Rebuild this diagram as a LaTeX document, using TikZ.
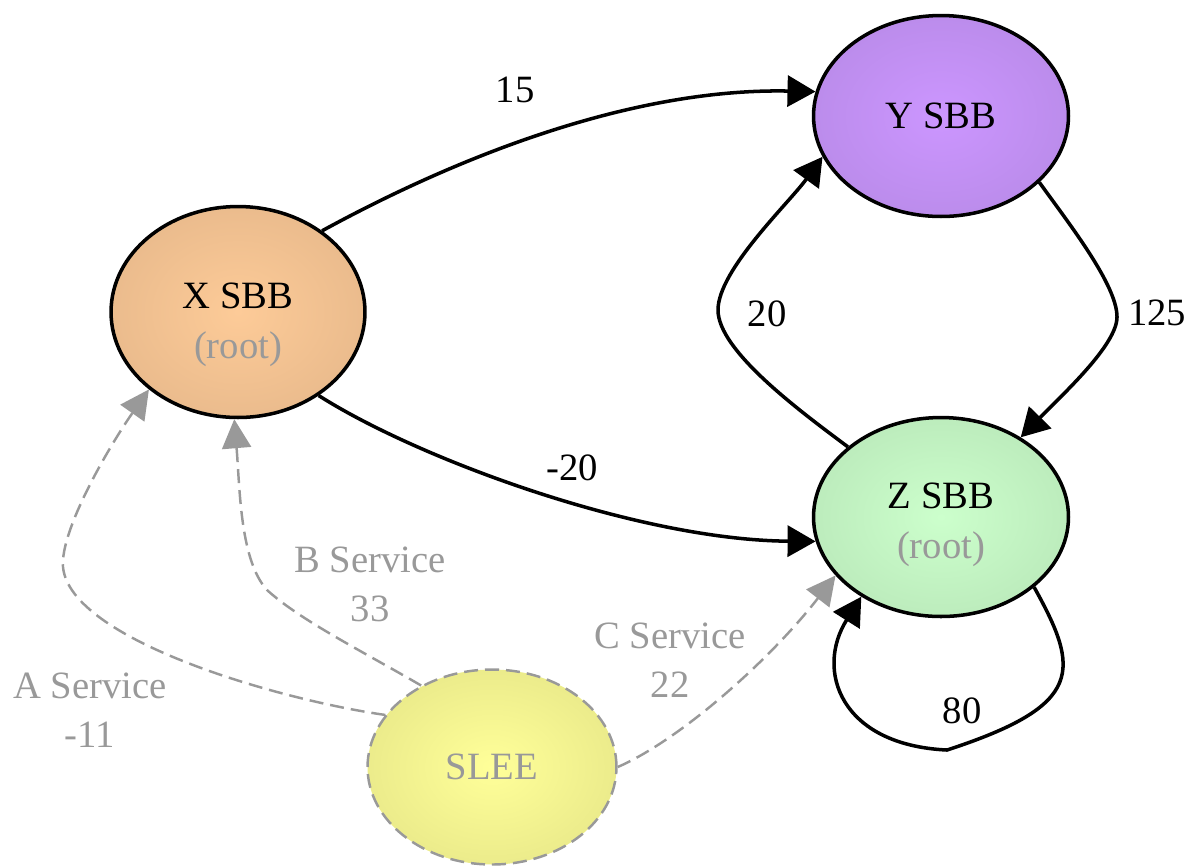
\documentclass[tikz,border=0pt]{standalone}
\usepackage{fontspec}
\setmainfont{Liberation Serif}
\usepackage{xcolor}
\definecolor{rootgray}{HTML}{999999}
\definecolor{xcore}{HTML}{FDCB98}
\definecolor{xrim}{HTML}{DCAF84}
\definecolor{ycore}{HTML}{CC96FF}
\definecolor{yrim}{HTML}{AE84DC}
\definecolor{zcore}{HTML}{CCFFCC}
\definecolor{zrim}{HTML}{B0DDB0}
\definecolor{sleecore}{HTML}{FFFF99}
\definecolor{sleerim}{HTML}{DCDC80}
\usepackage{tikz}
\usetikzlibrary{arrows.meta, shapes.geometric}
\pgfdeclareradialshading{xglow}{\pgfpointorigin}{color(0bp)=(xcore); color(45bp)=(xrim); color(50bp)=(xrim)}
\pgfdeclareradialshading{yglow}{\pgfpointorigin}{color(0bp)=(ycore); color(45bp)=(yrim); color(50bp)=(yrim)}
\pgfdeclareradialshading{zglow}{\pgfpointorigin}{color(0bp)=(zcore); color(45bp)=(zrim); color(50bp)=(zrim)}
\pgfdeclareradialshading{sleeglow}{\pgfpointorigin}{color(0bp)=(sleecore); color(45bp)=(sleerim); color(50bp)=(sleerim)}

\begin{document}
\begin{tikzpicture}[x=0.02cm, y=-0.02cm, font=\fontsize{22}{28}\selectfont,
  sbb/.style={ellipse, draw, line width=2pt, inner sep=0pt, shade,
    minimum width=5.1cm, minimum height=4.02cm},
  sleebox/.style={ellipse, draw=rootgray, line width=1.4pt, inner sep=0pt, shade,
    dash pattern=on 0.28cm off 0.14cm, text=rootgray,
    minimum width=4.98cm, minimum height=3.9cm},
  flow/.style={line width=2pt, -{Triangle[length=0.56cm, width=0.62cm]}},
  service/.style={rootgray, line width=1.4pt, dash pattern=on 0.28cm off 0.14cm,
    -{Triangle[length=0.58cm, width=0.58cm]}},
  weight/.style={inner sep=0pt},
  svclabel/.style={inner sep=0pt, align=center, text=rootgray}]
  \useasboundingbox (0,0) rectangle (1185,867);

  % components
  \node[sbb, shading=xglow, minimum width=5.08cm, minimum height=4.22cm,
    label={[align=center, yshift=-0.255cm]center:X SBB\\\textcolor{rootgray}{(root)}}]
    (xsbb) at (238,312) {};
  \node[sbb, shading=yglow] (ysbb) at (941,116) {Y SBB};
  \node[sbb, shading=zglow, minimum height=3.98cm,
    label={[align=center, yshift=-0.155cm]center:Z SBB\\\textcolor{rootgray}{(root)}}]
    (zsbb) at (941,517) {};
  \node[sleebox, shading=sleeglow] (slee) at (492,767) {SLEE};

  % weighted calls
  \draw[flow] (xsbb.44) .. controls (470,150) and (640,88) .. (ysbb.169);
  \draw[flow] (xsbb.-46) .. controls (420,460) and (640,540) .. (zsbb.191);
  \draw[flow] (zsbb.143) .. controls (797,409) and (718,350) .. (718,310)
    .. controls (718,270) and (789,203) .. (ysbb.199);
  \draw[flow] (ysbb.-34) .. controls (1070,225) and (1117,285) .. (1117,317)
    .. controls (1117,345) and (1062,395) .. (zsbb.45);
  \draw[flow] (zsbb.-37) .. controls (1080,670) and (1085,705) .. (947,750)
    .. controls (840,745) and (815,670) .. (zsbb.225);

  \node[weight] (w15) at (515,90) {15};
  \node[weight] (wminus20) at (572,468) {-20};
  \node[weight] (w20) at (767,314) {20};
  \node[weight] (w125) at (1157,313) {125};
  \node[weight] (w80) at (962,711) {80};

  % services started by the container
  \draw[service] (slee.154) .. controls (280,700) and (70,640) .. (63,567)
    .. controls (60,530) and (110,445) .. (xsbb.221);
  \draw[service] (slee.131) .. controls (360,650) and (300,620) .. (267,590)
    .. controls (240,560) and (240,490) .. (xsbb.268);
  \draw[service] (slee.0) .. controls (680,740) and (770,660) .. (zsbb.209);

  \node[svclabel] (asvc) at (90,710) {A Service\\-11};
  \node[svclabel] (bsvc) at (370,584) {B Service\\33};
  \node[svclabel] (csvc) at (670,660) {C Service\\22};
\end{tikzpicture}
\end{document}
